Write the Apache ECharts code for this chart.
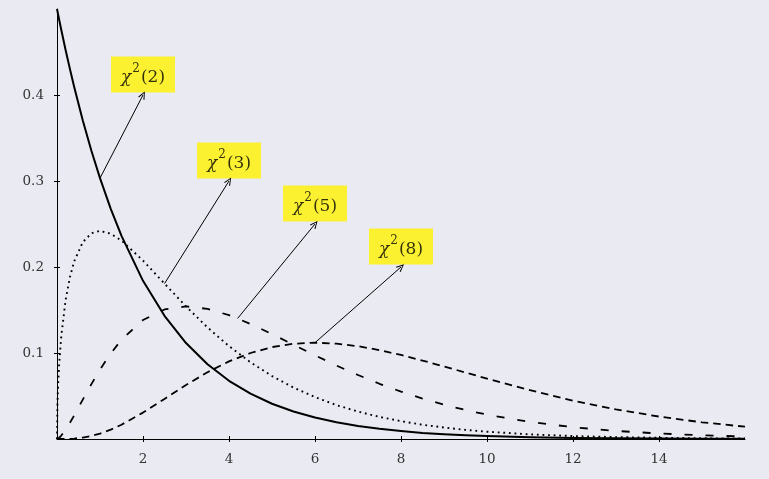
<!DOCTYPE html>
<html>
<head>
<meta charset="utf-8">
<script src="https://cdn.jsdelivr.net/npm/echarts@6/dist/echarts.min.js"></script>
<style>
html,body{margin:0;padding:0;background:#eaeaf2;}
#chart{width:769px;height:479px;}
</style>
</head>
<body>
<div id="chart"></div>
<script>
// x sample positions
const xs = [0,0.01,0.02,0.05,0.1,0.2,0.3,0.4,0.6,0.8,1,1.25,1.5,2,2.5,3,3.5,4,4.5,5,5.5,6,6.5,7,7.5,8,8.5,9,9.5,10,11,12,13,14,15,16];
// densities
const chi2_df2 = [0.5,0.4975,0.495,0.4877,0.4756,0.4524,0.4304,0.4094,0.3704,0.3352,0.3033,0.2676,0.2362,0.1839,0.1433,0.1116,0.0869,0.0677,0.0527,0.0410,0.0320,0.0249,0.0194,0.0151,0.0118,0.0092,0.0071,0.0056,0.0043,0.0034,0.0020,0.0012,0.00075,0.00046,0.00028,0.00017];
const chi2_df3 = [0,0.0397,0.0559,0.0870,0.1200,0.1614,0.1881,0.2066,0.2289,0.2392,0.2420,0.2387,0.2308,0.2075,0.1807,0.1542,0.1297,0.1080,0.0892,0.0732,0.0598,0.0487,0.0394,0.0319,0.0257,0.0207,0.0166,0.0133,0.0106,0.0085,0.0054,0.0034,0.0022,0.0014,0.00085,0.00053];
const chi2_df5 = [0,0.00013,0.00037,0.00145,0.0040,0.0108,0.0188,0.0275,0.0458,0.0638,0.0807,0.0995,0.1154,0.1384,0.1506,0.1542,0.1513,0.1440,0.1338,0.1220,0.1096,0.0973,0.0854,0.0744,0.0642,0.0551,0.0470,0.0399,0.0337,0.0283,0.0198,0.0137,0.0094,0.0064,0.0043,0.0029];
const chi2_df8 = [0,0,0,0,0.00001,0.000075,0.00024,0.00055,0.00167,0.00357,0.00632,0.0109,0.0166,0.0307,0.0466,0.0628,0.0776,0.0902,0.1000,0.1069,0.1108,0.1120,0.1109,0.1079,0.1034,0.0977,0.0912,0.0844,0.0773,0.0702,0.0567,0.0446,0.0344,0.0261,0.0194,0.0143];
// tick labels
const xTicks = [2,4,6,8,10,12,14];
const yTicks = [0.1,0.2,0.3,0.4];
// annotations
const annDf = ['2','3','5','8'];
const annFromX = [1,2.5,4.2,6];
const annFromY = [0.3033,0.1807,0.1402,0.1120];
const annToX = [2,4,6,8];
const annToY = [0.4,0.3,0.25,0.2];

const pair = (ys) => xs.map((x,i)=>[x, ys[i]]);
const fontFam = 'DejaVu Serif';
const arrowPath = 'path://M0,10 L5,0 L10,10 L8.6,10.6 L5,2.6 L1.4,10.6 Z';

const gridRect = {left:57, right:24, top:9, bottom:40};

const lineSeries = (ys, width, dash) => ({
  type:'line', data: pair(ys), showSymbol:false, symbol:'none',
  smooth:false, silent:true,
  lineStyle:{color:'#000', width:width, type:dash, cap:'butt', join:'round'},
  xAxisIndex:0, yAxisIndex:0
});

const chart = echarts.init(document.getElementById('chart'), null, {renderer:'canvas'});
chart.setOption({
  backgroundColor:'#eaeaf2',
  animation:false,
  grid:[Object.assign({}, gridRect), Object.assign({}, gridRect)],
  xAxis:[
    {type:'value', gridIndex:0, min:0, max:16, interval:2,
     axisLine:{show:true, onZero:false, lineStyle:{color:'#000', width:1}},
     axisTick:{show:true, inside:false, length:3, customValues:xTicks, lineStyle:{color:'#000'}},
     axisLabel:{show:true, customValues:xTicks, margin:13, color:'#333', fontFamily:fontFam, fontSize:13.5},
     splitLine:{show:false}},
    {type:'value', gridIndex:1, min:0, max:16, interval:2,
     axisLine:{show:false},
     axisTick:{show:true, inside:true, length:3, customValues:xTicks, lineStyle:{color:'#000'}},
     axisLabel:{show:false}, splitLine:{show:false}}
  ],
  yAxis:[
    {type:'value', gridIndex:0, min:0, max:0.5, interval:0.1,
     axisLine:{show:true, onZero:false, lineStyle:{color:'#000', width:1}},
     axisTick:{show:true, inside:false, length:3, customValues:yTicks, lineStyle:{color:'#000'}},
     axisLabel:{show:true, customValues:yTicks, margin:13, color:'#333', fontFamily:fontFam, fontSize:13.5,
       formatter:(v)=>v.toFixed(1)},
     splitLine:{show:false}},
    {type:'value', gridIndex:1, min:0, max:0.5, interval:0.1,
     axisLine:{show:false},
     axisTick:{show:true, inside:true, length:3, customValues:yTicks, lineStyle:{color:'#000'}},
     axisLabel:{show:false}, splitLine:{show:false}}
  ],
  series:[
    lineSeries(chi2_df8, 1.8, [7.5,5]),
    lineSeries(chi2_df5, 1.8, [8,13]),
    lineSeries(chi2_df3, 1.9, [1.8,3.8]),
    lineSeries(chi2_df2, 2, 'solid'),
    {
      type:'scatter', xAxisIndex:0, yAxisIndex:0, silent:true,
      symbolSize:1, itemStyle:{color:'rgba(0,0,0,0)'},
      data: annToX.map((x,i)=>({value:[x, annToY[i]], df:annDf[i]})),
      label:{
        show:true, position:'top', distance:2,
        backgroundColor:'#fff200', padding:[6,10,6,10],
        formatter:(p)=>'{c|χ}{s|2}{p|(' + p.data.df + ')}',
        rich:{
          c:{fontFamily:fontFam, fontStyle:'italic', fontSize:17, color:'#000', lineHeight:24, verticalAlign:'bottom'},
          s:{fontFamily:fontFam, fontSize:12, color:'#000', lineHeight:24, verticalAlign:'top', padding:[0,1,0,1]},
          p:{fontFamily:fontFam, fontSize:17, color:'#000', lineHeight:24, verticalAlign:'bottom'}
        }
      },
      markLine:{
        silent:true, animation:false,
        symbol:['none', arrowPath], symbolSize:[7,8],
        label:{show:false},
        lineStyle:{color:'#000', width:1, type:'solid'},
        emphasis:{disabled:true},
        data: annFromX.map((x,i)=>[{coord:[x, annFromY[i]]},{coord:[annToX[i], annToY[i]]}])
      }
    }
  ]
});
</script>
</body>
</html>
